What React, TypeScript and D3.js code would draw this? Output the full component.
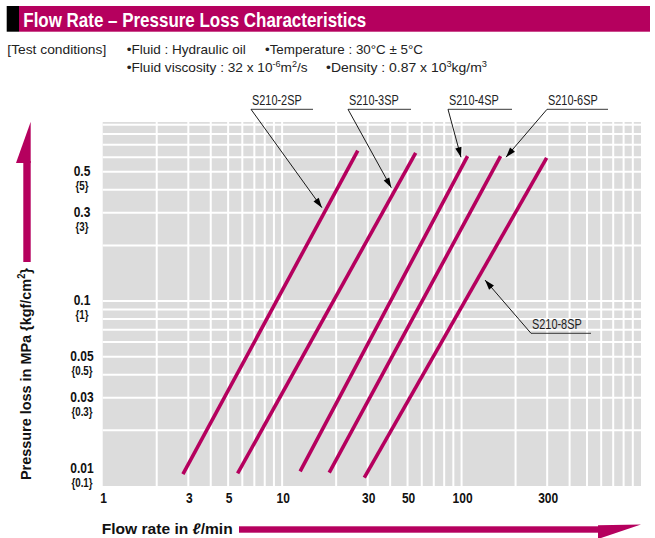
import React from 'react';
import * as d3 from 'd3';

// ---- data ----
const seriesNames = ['S210-2SP', 'S210-3SP', 'S210-4SP', 'S210-6SP', 'S210-8SP'];
const flowStart = [2.8, 5.65, 12.6, 18.3, 28.7];   // l/min at lower end
const flowEnd = [26.4, 55.5, 108, 165, 298];        // l/min at upper end
const lossStart = [0.0116, 0.0117, 0.012, 0.0118, 0.0111]; // MPa
const lossEnd = [0.651, 0.633, 0.608, 0.608, 0.595];

const xTicks = [1, 3, 5, 10, 30, 50, 100, 300];
const yTicks = [0.5, 0.3, 0.1, 0.05, 0.03, 0.01];
const yTicksKgf = ['{5}', '{3}', '{1}', '{0.5}', '{0.3}', '{0.1}'];

// pressure at which each callout arrow touches its line
const calloutLoss = [0.32, 0.41, 0.6, 0.6, 0.13];

const W = 655;
const H = 538;
const MAGENTA = '#b5005e';
const GRAY = '#dcdcdc';
const FONT = "'Liberation Sans', Arial, Helvetica, sans-serif";

const x = d3.scaleLog().domain([1, 1000]).range([102.7, 641]);
const y = d3.scaleLog().domain([0.01, 0.93]).range([486, 122]);

// minor grid values
const xGrid: number[] = [];
[1, 10, 100].forEach(d => { for (let k = 2; k <= 10; k++) if (d * k < 1000) xGrid.push(d * k); });
const yGrid: number[] = [];
[0.01, 0.1].forEach(d => { for (let k = 2; k <= 10; k++) if (d * k < 0.93) yGrid.push(d * k); });

// point on a series (log-log straight line) at a given pressure
const flowAt = (i: number, p: number) => {
  const t = (Math.log10(p) - Math.log10(lossStart[i])) / (Math.log10(lossEnd[i]) - Math.log10(lossStart[i]));
  return Math.pow(10, Math.log10(flowStart[i]) + t * (Math.log10(flowEnd[i]) - Math.log10(flowStart[i])));
};

// callout layout: label left, underline y, label width, arrow-tip nudge
const callouts = [
  { lx: 251, ly: 109.3, w: 62, dx: -5 },
  { lx: 348, ly: 109.3, w: 63, dx: -5 },
  { lx: 448, ly: 109.3, w: 64, dx: -6 },
  { lx: 547, ly: 109.3, w: 61, dx: 6 },
  { lx: 531, ly: 333.3, w: 60, dx: 8 },
];

const Narrow: React.FC<{ x: number; y: number; size: number; bold?: boolean; anchor?: string; sx?: number; fill?: string; children: React.ReactNode }> = ({ x, y, size, bold, anchor = 'start', sx = 0.8, fill = '#111', children }) => (
  <text
    transform={`translate(${x},${y}) scale(${sx},1)`}
    fontFamily={FONT}
    fontSize={size}
    fontWeight={bold ? 'bold' : 'normal'}
    textAnchor={anchor}
    fill={fill}
  >
    {children}
  </text>
);

const Arrowhead: React.FC<{ from: [number, number]; to: [number, number] }> = ({ from, to }) => {
  const ang = Math.atan2(to[1] - from[1], to[0] - from[0]);
  const len = 10;
  const hw = 3.2;
  const bx = to[0] - len * Math.cos(ang);
  const by = to[1] - len * Math.sin(ang);
  const px = -Math.sin(ang) * hw;
  const py = Math.cos(ang) * hw;
  return <polygon points={`${to[0]},${to[1]} ${bx + px},${by + py} ${bx - px},${by - py}`} fill="#000" />;
};

export default function App() {
  const left = x.range()[0];
  const right = x.range()[1];
  const top = y.range()[1];
  const bottom = y.range()[0];

  return (
    <svg width={W} height={H} style={{ position: 'absolute', left: 0, top: 0, background: '#fff' }}>
      {/* header */}
      <rect x={6.7} y={6} width={12.3} height={25.7} fill="#000" />
      <rect x={19} y={6} width={631} height={25.7} fill={MAGENTA} />
      <text x={23.3} y={26.5} fontFamily={FONT} fontSize={21} fontWeight="bold" fill="#fff" textLength={343} lengthAdjust="spacingAndGlyphs">
        Flow Rate – Pressure Loss Characteristics
      </text>

      {/* test conditions */}
      <g fontFamily={FONT} fontSize={13.5} fill="#222">
        <text x={7.3} y={54} textLength={99} lengthAdjust="spacingAndGlyphs">[Test conditions]</text>
        <text x={126.7} y={54} textLength={119} lengthAdjust="spacingAndGlyphs">•Fluid : Hydraulic oil</text>
        <text x={265} y={54} textLength={158} lengthAdjust="spacingAndGlyphs">•Temperature : 30°C ± 5°C</text>
        <text x={126.7} y={71.7} textLength={181} lengthAdjust="spacingAndGlyphs">
          •Fluid viscosity : 32 x 10<tspan fontSize={9} dy={-5}>-6</tspan><tspan dy={5}>m</tspan><tspan fontSize={9} dy={-5}>2</tspan><tspan dy={5}>/s</tspan>
        </text>
        <text x={326} y={71.7} textLength={161} lengthAdjust="spacingAndGlyphs">
          •Density : 0.87 x 10<tspan fontSize={9} dy={-5}>3</tspan><tspan dy={5}>kg/m</tspan><tspan fontSize={9} dy={-5}>3</tspan>
        </text>
      </g>

      {/* plot background + grid */}
      <rect x={left} y={top} width={right - left} height={bottom - top} fill={GRAY} />
      {xGrid.map(v => (
        <line key={`gx${v}`} x1={x(v)} x2={x(v)} y1={top} y2={bottom} stroke="#fff" strokeWidth={2} />
      ))}
      {yGrid.map(v => (
        <line key={`gy${v}`} x1={left} x2={right} y1={y(v)} y2={y(v)} stroke="#fff" strokeWidth={2} />
      ))}

      {/* series lines */}
      {seriesNames.map((n, i) => (
        <line
          key={n}
          x1={x(flowStart[i])}
          y1={y(lossStart[i])}
          x2={x(flowEnd[i])}
          y2={y(lossEnd[i])}
          stroke={MAGENTA}
          strokeWidth={3.6}
        />
      ))}

      {/* callouts */}
      {seriesNames.map((n, i) => {
        const c = callouts[i];
        const tip: [number, number] = [x(flowAt(i, calloutLoss[i])) + c.dx, y(calloutLoss[i])];
        const start: [number, number] = [c.lx, c.ly];
        return (
          <g key={`c${n}`}>
            <line x1={c.lx} x2={c.lx + c.w} y1={c.ly} y2={c.ly} stroke="#222" strokeWidth={0.9} />
            <line x1={start[0]} y1={start[1]} x2={tip[0]} y2={tip[1]} stroke="#000" strokeWidth={0.9} />
            <Arrowhead from={start} to={tip} />
            <Narrow x={c.lx + 1} y={c.ly - 4} size={14} sx={0.78} fill="#222">{n}</Narrow>
          </g>
        );
      })}

      {/* y tick labels */}
      {yTicks.map((v, i) => {
        const off = v === 0.01 ? -18 : -1;
        const yy = y(v) + off;
        return (
          <g key={`yt${v}`}>
            <Narrow x={82} y={yy + 5} size={15} bold anchor="middle" sx={0.8}>{String(v)}</Narrow>
            <Narrow x={82} y={yy + 19} size={13} bold anchor="middle" sx={0.75}>{yTicksKgf[i]}</Narrow>
          </g>
        );
      })}

      {/* x tick labels */}
      {xTicks.map(v => (
        <Narrow key={`xt${v}`} x={x(v) + 1} y={503} size={15} bold anchor="middle" sx={0.8}>{String(v)}</Narrow>
      ))}

      {/* x axis title + arrow */}
      <text x={101.7} y={534} fontFamily={FONT} fontSize={15.5} fontWeight="bold" fill="#111" textLength={131} lengthAdjust="spacingAndGlyphs">
        Flow rate in <tspan fontStyle="italic">ℓ</tspan>/min
      </text>
      <rect x={239} y={526.3} width={360} height={6.4} fill={MAGENTA} />
      <polygon points="598,525.3 641,524.6 598,539" fill={MAGENTA} />

      {/* y axis title + arrow */}
      <text
        transform="translate(30.7,374) rotate(-90)"
        fontFamily={FONT}
        fontSize={15.5}
        fontWeight="bold"
        fill="#111"
        textAnchor="middle"
        textLength={212}
        lengthAdjust="spacingAndGlyphs"
      >
        Pressure loss in MPa {'{'}kgf/cm<tspan fontSize={10} dy={-6}>2</tspan><tspan dy={6}>{'}'}</tspan>
      </text>
      <rect x={23.3} y={161} width={7.4} height={101} fill={MAGENTA} />
      <polygon points="16,163 30.7,121.7 30.7,163" fill={MAGENTA} />
    </svg>
  );
}
